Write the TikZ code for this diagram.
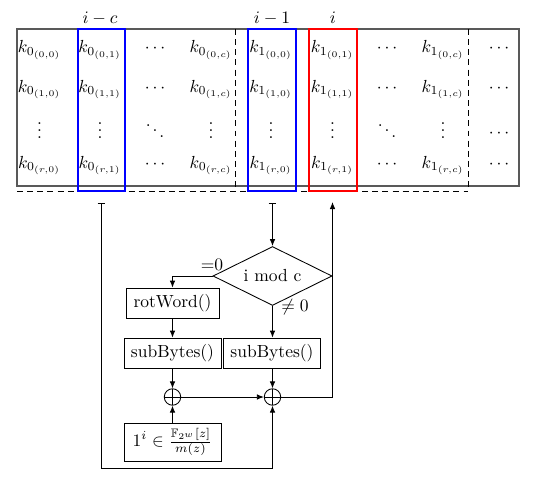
\documentclass[tikz,border=0pt]{standalone}
\usepackage{amssymb}
\usetikzlibrary{arrows.meta,shapes.geometric}
\begin{document}
\begin{tikzpicture}[x=0.5714pt,y=-0.5714pt,
  entry/.style={anchor=base,inner sep=0pt},
  box/.style={draw,line width=0.5pt,inner sep=0pt,minimum width=55.4pt,minimum height=17.1pt},
  dia/.style={draw,line width=0.5pt,diamond,aspect=2,inner sep=0pt,minimum width=68pt,minimum height=33.7pt},
  arr/.style={line width=0.5pt,-{Latex[length=4pt,width=3.2pt]}},
  barr/.style={line width=0.5pt,{Bar[width=4.5pt]}-{Latex[length=4pt,width=3.2pt]}},
  xorn/.style={circle,draw,line width=0.5pt,minimum size=9.4pt,inner sep=0pt,
    path picture={\draw[line width=0.5pt] (path picture bounding box.north) -- (path picture bounding box.south)
      (path picture bounding box.west) -- (path picture bounding box.east);}},
  mainrect/.style={draw=black!65,line width=0.7pt},
  dsh/.style={line width=0.5pt,dash pattern=on 3.4pt off 2.4pt},
  colbox/.style={line width=0.9pt}
]
\useasboundingbox (0,0) rectangle (540,486);

% matrix frame
\draw[mainrect] (17,29) rectangle (519,186);
\draw[dsh] (235,29) -- (235,191);
\draw[dsh] (468,29) -- (468,191);
\draw[dsh] (17,191) -- (468,191);

% column highlights
\draw[colbox,blue] (78,29) rectangle (125,191);
\draw[colbox,blue] (248,29) rectangle (296,191);
\draw[colbox,red] (309,29) rectangle (357,191);

% column labels
\node[entry] (lc) at (100,24) {$i-c$};
\node[entry] (l1) at (272,24) {$i-1$};
\node[entry] (li) at (333,24) {$i$};

% entries
\foreach \xx/\a/\b/\n in {39.5/0/0/ca, 100/0/1/cb, 211/0/c/cd, 271/1/0/ce, 332.5/1/1/cf, 443/1/c/ch} {
  \node[entry] (\n r0) at (\xx,53) {$k_{\a_{(0,\b)}}$};
  \node[entry] (\n r1) at (\xx,92) {$k_{\a_{(1,\b)}}$};
  \node[entry] (\n r2) at (\xx,139) {$\vdots$};
  \node[entry] (\n r3) at (\xx,168) {$k_{\a_{(r,\b)}}$};
}
\foreach \xx/\n in {155/cc, 387/cg} {
  \node[entry] (\n r0) at (\xx,53) {$\cdots$};
  \node[entry] (\n r1) at (\xx,92) {$\cdots$};
  \node[entry] (\n r2) at (\xx,139) {$\ddots$};
  \node[entry] (\n r3) at (\xx,168) {$\cdots$};
}
\node[entry] (cir0) at (499,53) {$\cdots$};
\node[entry] (cir1) at (499,92) {$\cdots$};
\node[entry] (cir2) at (499,137) {$\cdots$};
\node[entry] (cir3) at (499,168) {$\cdots$};

% connector ends
\coordinate (t1) at (101.5,203);
\coordinate (t2) at (272.5,203);
\coordinate (r1) at (332.5,202);
\coordinate (b1) at (101.5,468);

% flowchart
\node[dia] (mod) at (272.5,276) {i mod c};
\node[box,minimum width=53.1pt] (rot) at (172.5,303) {rotWord()};
\node[box] (sb1) at (172.5,353) {subBytes()};
\node[box] (sb2) at (272,353) {subBytes()};
\node[xorn] (x1) at (172.5,397) {};
\node[xorn] (x2) at (272.5,397) {};
\node[box,minimum height=21.7pt] (rc) at (172.5,442) {$1^i \in \frac{\mathbb{F}_{2^w}[z]}{m(z)}$};
\node (eq) at (212,265) {=0};
\node (ne) at (295,307) {$\neq 0$};

\draw[barr] (t1) -- (b1) -| (x2.south);
\draw[barr] (t2) -- (mod.north);
\draw[arr] (mod.west) -| (rot.north);
\draw[arr] (rot) -- (sb1);
\draw[arr] (mod.south) -- (sb2.north -| mod.south);
\draw[arr] (sb1) -- (x1);
\draw[arr] (sb2.south -| x2) -- (x2);
\draw[arr] (rc) -- (x1);
\draw[arr] (x1) -- (x2);
\draw[arr] (x2.east) -| (r1);
\end{tikzpicture}
\end{document}
